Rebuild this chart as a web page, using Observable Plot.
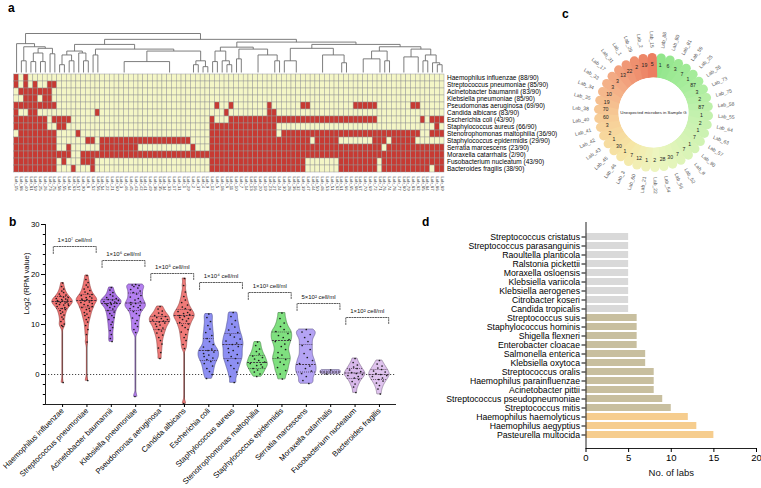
<!DOCTYPE html>
<html><head><meta charset="utf-8">
<script src="https://cdn.jsdelivr.net/npm/d3@7"></script>
<script src="https://cdn.jsdelivr.net/npm/@observablehq/plot@0.6"></script>
<style>
body{margin:0;background:#fff;}
#root{position:relative;width:761px;height:488px;overflow:hidden;font-family:"Liberation Sans",Arial,Helvetica,sans-serif;}
.pl{position:absolute;}
.lbl{position:absolute;font-weight:bold;font-size:12px;line-height:1;color:#000;}
</style></head><body><div id="root"></div>
<script>
// ---------------- DATA ----------------
// Panel a: heatmap
const heatSpecies = ["Haemophilus influenzae","Streptococcus pneumoniae","Acinetobacter baumannii","Klebsiella pneumoniae","Pseudomonas aeruginosa","Candida albicans","Escherichia coli","Staphylococcus aureus","Stenotrophomonas maltophilia","Staphylococcus epidermidis","Serratia marcescens","Moraxella catarrhalis","Fusobacterium nucleatum","Bacteroides fragilis"];
const heatDetected = [88,85,83,85,69,83,43,66,36,29,23,2,43,38];
const heatTotal = 90;
const labOrder = [15,88,40,81,59,25,26,73,75,58,55,64,63,57,90,8,52,56,54,22,21,60,3,46,45,43,42,41,49,38,35,34,33,17,31,1,29,2,37,4,9,12,5,18,6,11,10,7,14,13,16,20,19,23,27,24,30,28,36,32,39,47,44,50,48,53,51,62,61,66,65,68,67,70,69,72,71,76,74,78,77,80,79,83,82,85,84,87,86,89];
// missed (not detected) column runs per row, by column position
const missedRuns = [
 [[0,0],[2,2]],
 [[0,0],[2,2],[4,4],[7,8]],
 [[1,7]],
 [[2,4],[6,7]],
 [[0,8],[42,42],[45,45],[53,53],[60,61],[71,75],[83,84]],
 [[0,0],[3,4],[17,17],[44,44],[53,54]],
 [[0,6],[8,11],[41,41],[45,75],[85,85],[87,89]],
 [[0,6],[9,10],[41,54],[88,88]],
 [[1,8],[13,13],[41,54],[56,84],[87,89]],
 [[0,8],[15,16],[18,36],[41,61],[63,67],[75,77],[79,83]],
 [[0,8],[11,11],[18,25],[37,37],[41,76],[78,89]],
 [[0,11],[14,89]],
 [[0,8],[10,10],[14,16],[41,60],[68,75],[77,89]],
 [[0,8],[12,12],[16,16],[41,60],[68,75],[77,86],[88,89]]
];
// dendrogram: [height, child, child]; leaf = column position or "a-b" group of identical columns
const dendro = [1.0,
  [0.74, 0, [0.66, [0.3, 1, 2], [0.62, [0.5, [0.28, 3, 4], [0.28, 5, 6]], [0.48, 7, 8]]]],
  [0.85,
    [0.72, [0.55, [0.45, [0.2, 9, 10], [0.3, 11, 12]], [0.5, 13, [0.3, 14, 15]]],
           [0.6, [0.45, 16, 17], [0.55, [0.28, "18-27", "28-36"], [0.3, [0.2, 37, 38], [0.15, 39, 40]]]]],
    [0.78, [0.65, [0.55, [0.28, 41, 42], [0.3, 43, [0.2, 44, 45]]], [0.6, [0.35, 46, 47], [0.45, "48-53", [0.3, 54, 55]]]],
           [0.72, [0.62, [0.3, 56, "57-60"], [0.45, "61-67", [0.25, 68, 69]]],
                  [0.66, [0.55, [0.35, "70-75", 76], [0.3, 77, 78]], [0.6, [0.4, "79-83", 84], [0.45, [0.3, 85, 86], [0.25, 87, [0.2, 88, 89]]]]]]]
  ]
];

// Panel b: violins
const bSpecies = ["Haemophilus influenzae","Streptococcus pneumoniae","Acinetobacter baumannii","Klebsiella pneumoniae","Pseudomonas aeruginosa","Candida albicans","Escherichia coli","Staphylococcus aureus","Stenotrophomonas maltophilia","Staphylococcus epidermidis","Serratia marcescens","Moraxella catarrhalis","Fusobacterium nucleatum","Bacteroides fragilis"];
const bPoints = [
 [18.3,17.6,17.1,16.7,16.4,16.1,15.9,15.7,15.5,15.4,15.2,15.1,15.0,14.9,14.8,14.7,14.6,14.5,14.4,14.3,14.2,14.1,14.0,13.9,13.8,13.6,13.4,13.2,13.0,12.8,12.5,12.2,11.9,11.5,11.1,10.6,10.1,9.8,9.6,-1.6],
 [19.8,19.0,18.4,17.9,17.5,17.1,16.8,16.5,16.2,16.0,15.8,15.6,15.4,15.3,15.1,15.0,14.9,14.8,14.7,14.5,14.4,14.2,14.0,13.8,13.6,13.4,13.2,13.0,12.7,12.4,12.1,11.8,11.4,11.0,10.5,9.8,9.0,8.0,6.5,-1.2],
 [17.4,16.9,16.4,16.0,15.7,15.4,15.2,15.0,14.9,14.8,14.6,14.5,14.4,14.3,14.1,14.0,13.8,13.6,13.4,13.1,12.8,12.5,12.2,11.8,11.4,11.0,10.5,10.0,9.4,8.8,8.0,7.2,6.6],
 [18.0,17.9,17.8,17.6,17.3,17.0,16.7,16.4,16.1,15.8,15.5,15.2,14.9,14.6,14.4,14.2,14.0,13.8,13.6,13.4,13.2,13.0,12.6,12.2,11.8,11.3,10.8,10.2,9.6,9.0,8.4,-4.4],
 [13.6,13.1,12.7,12.3,12.0,11.8,11.6,11.4,11.2,11.0,10.9,10.7,10.5,10.3,10.1,9.9,9.6,9.3,9.0,8.7,8.3,7.9,7.4,6.8,6.1,5.3,4.4,3.2],
 [19.2,17.8,16.5,15.6,14.9,14.4,13.9,13.5,13.2,12.9,12.6,12.4,12.2,12.0,11.8,11.6,11.4,11.2,11.0,10.7,10.4,10.1,9.8,9.4,9.0,8.5,8.0,7.4,6.8,6.0,5.2,-5.8],
 [12.1,11.4,10.6,9.8,9.1,8.4,7.8,7.2,6.6,6.0,5.5,5.1,4.8,4.5,4.2,3.9,3.6,3.3,3.0,2.6,2.2,1.7,1.2,0.6,0.0,-0.8],
 [12.4,11.6,10.8,10.1,9.5,8.9,8.4,7.9,7.5,7.1,6.7,6.3,6.0,5.6,5.2,4.8,4.4,4.0,3.6,3.2,2.8,2.3,1.8,1.2,0.5,-0.4,-1.6],
 [6.5,5.8,5.1,4.6,4.1,3.7,3.4,3.1,2.8,2.5,2.2,2.0,1.8,1.5,1.2,0.9,0.5,0.1,-0.4],
 [12.3,11.2,10.3,9.6,9.0,8.6,8.2,7.8,7.4,7.0,6.6,6.1,5.6,5.0,4.4,3.9,3.4,3.0,2.5,2.0,1.4,0.8,0.1,-0.9],
 [9.0,8.5,8.0,7.4,6.6,5.8,5.0,4.2,3.4,2.8,2.2,1.7,1.2,0.7,0.2,-0.4,-1.2,-1.8],
 [0.9,0.1],
 [3.2,2.4,1.9,1.5,1.2,0.9,0.6,0.4,0.2,0.0,-0.2,-0.4,-0.7,-1.0,-1.4,-1.9,-2.5,-3.6],
 [2.8,2.1,1.7,1.3,1.0,0.7,0.5,0.2,0.0,-0.2,-0.4,-0.7,-1.0,-1.3,-1.7,-2.2,-2.9,-3.9]
];
const bQuartiles = [[13.2,14.6,15.6],[13.5,14.8,16.0],[12.8,14.2,15.0],[12.8,14.3,16.3],[9.0,10.6,11.6],[10.2,11.8,13.0],[2.8,4.8,7.2],[3.2,6.0,8.2],[1.2,2.4,3.8],[3.2,6.8,8.5],[0.5,2.0,6.0],[0.3,0.5,0.7],[-0.8,0.3,1.2],[-1.0,0.0,1.0]];
const bracketSpan = [[0,1],[2,3],[4,5],[6,7],[8,9],[10,11],[12,13]];
const bracketLevel = [25.6,22.8,20.2,18.4,16.4,14.2,11.4];
const bracketText = ["1×10⁷ cell/ml","1×10⁶ cell/ml","1×10⁵ cell/ml","1×10⁴ cell/ml","1×10³ cell/ml","5×10² cell/ml","1×10² cell/ml"];
const bYLabel = "Log2 (RPM value)";

// Panel c: circular plot
const cLabs = ["Lab_88","Lab_80","Lab_81","Lab_59","Lab_25","Lab_26","Lab_73","Lab_75","Lab_58","Lab_55","Lab_64","Lab_63","Lab_57","Lab_90","Lab_8","Lab_52","Lab_56","Lab_54","Lab_22","Lab_21","Lab_60","Lab_3","Lab_46","Lab_45","Lab_43","Lab_42","Lab_41","Lab_40","Lab_38","Lab_35","Lab_34","Lab_33","Lab_17","Lab_31","Lab_1","Lab_29","Lab_2","Lab_15"];
const cValues = [1,6,3,7,1,87,3,2,87,1,2,1,7,1,7,7,30,28,2,1,12,7,1,30,1,2,3,60,70,19,10,3,3,13,22,2,19,5];
const cTitle = "Unexpected microbes in Sample G";

// Panel d: bars
const dSpecies = ["Streptococcus cristatus","Streptococcus parasanguinis","Raoultella planticola","Ralstonia pickettii","Moraxella osloensis","Klebsiella variicola","Klebsiella aerogenes","Citrobacter koseri","Candida tropicalis","Streptococcus suis","Staphylococcus hominis","Shigella flexneri","Enterobacter cloacae","Salmonella enterica","Klebsiella oxytoca","Streptococcus oralis","Haemophilus parainfluenzae","Acinetobacter pittii","Streptococcus pseudopneumoniae","Streptococcus mitis","Haemophilus haemolyticus","Haemophilus aegyptius","Pasteurella multocida"];
const dLabs = [5,5,5,5,5,5,5,5,5,6,6,6,6,7,7,8,8,8,9,10,12,13,15];
const dTier = ["low","low","low","low","low","low","low","low","low","mid","mid","mid","mid","mid","mid","mid","mid","mid","mid","mid","high","high","high"];
const dXLabel = "No. of labs";

// ---------------- STYLE ----------------
const FONT = "Liberation Sans, Arial, Helvetica, sans-serif";
const RED = "#c73a33", YELLOW = "#f4f6c6";
const bFill = ["#ef7170","#ef7170","#a870e4","#b47ff0","#f07a78","#f07a78","#8d8ff3","#8d8ff3","#7fe07f","#7fe07f","#b4a3f4","#c6b9f5","#d8b8ea","#dfc3ee"];
const tierColor = {low: "#d9d9d9", mid: "#c8bf9f", high: "#f6cd8e"};
const root = document.getElementById("root");
function place(el, left, top) { el.classList.add("pl"); el.style.left = left + "px"; el.style.top = top + "px"; root.appendChild(el); }
function label(t, left, top) { const d = document.createElement("div"); d.className = "lbl"; d.textContent = t; d.style.left = left + "px"; d.style.top = top + "px"; root.appendChild(d); }
const baseStyle = {background: "transparent", fontFamily: FONT, overflow: "visible"};

// ---------------- PANEL A ----------------
const heatLabels = heatSpecies.map((s, i) => `${s} (${heatDetected[i]}/${heatTotal})`);
const labNames = labOrder.map(n => "Lab_" + n);
const cells = [];
heatLabels.forEach((row, r) => {
  const miss = new Set();
  missedRuns[r].forEach(([a, b]) => { for (let c = a; c <= b; c++) miss.add(c); });
  labNames.forEach((lab, c) => cells.push({row, lab, missed: miss.has(c) ? 1 : 0}));
});
const segs = [];
function layoutTree(node) {
  if (!Array.isArray(node)) {
    if (typeof node === "number") return {x: node + 0.5, h: 0};
    const [a, b] = node.split("-").map(Number);
    return {x: (a + b + 1) / 2, h: 0};
  }
  const [h, ...kids] = node;
  const ks = kids.map(layoutTree);
  ks.forEach(k => segs.push({x1: k.x, y1: k.h, x2: k.x, y2: h}));
  segs.push({x1: ks[0].x, y1: h, x2: ks[ks.length - 1].x, y2: h});
  return {x: (ks[0].x + ks[ks.length - 1].x) / 2, h};
}
layoutTree(dendro);

const dend = Plot.plot({
  width: 570, height: 74, marginTop: 33, marginBottom: 2, marginLeft: 13.7, marginRight: 126,
  style: baseStyle,
  x: {domain: [0, labNames.length], axis: null},
  y: {domain: [0, 1], axis: null},
  marks: [Plot.link(segs, {x1: "x1", y1: "y1", x2: "x2", y2: "y2", stroke: "#6e6e6e", strokeWidth: 0.9})]
});
place(dend, 0, 0);

const heat = Plot.plot({
  width: 570, height: 145, marginTop: 11.7, marginBottom: 31, marginLeft: 13.7, marginRight: 126,
  style: baseStyle,
  x: {domain: labNames, padding: 0},
  y: {domain: heatLabels, padding: 0},
  color: {type: "ordinal", domain: [0, 1], range: [YELLOW, RED]},
  marks: [
    Plot.cell(cells, {x: "lab", y: "row", fill: "missed", stroke: "#959595", strokeWidth: 0.45}),
    Plot.axisX({tickRotate: 90, tickSize: 0, tickPadding: 2, fontSize: 4.2, label: null, fill: "#333"}),
    Plot.axisY({anchor: "right", tickSize: 0, tickPadding: 2.5, fontSize: 6.5, label: null})
  ]
});
place(heat, 0, 60);

// ---------------- PANEL C ----------------
const nC = cLabs.length;
const petals = cLabs.map((lab, i) => {
  const a = (i + 0.85) * 2 * Math.PI / nC;
  const deg = a * 180 / Math.PI;
  return {i, lab, v: cValues[i], s: Math.sin(a), c: Math.cos(a),
          rot: deg < 180 ? deg - 90 : deg + 90};
});
const circ = Plot.plot({
  width: 190, height: 195, style: baseStyle,
  x: {domain: [-93, 97], range: [0, 190], axis: null},
  y: {domain: [-98, 97], range: [195, 0], axis: null},
  color: {type: "linear", domain: [0, 5, 9, 14, 18, 22, 27, 32, 37],
          range: ["#92e68c", "#aaed9e", "#c3f1ae", "#daf4b7", "#edf5bf", "#f6e6a6", "#f7cd97", "#f3aa84", "#ec7e61"]},
  marks: [
    Plot.link(petals, {x1: d => 35 * d.s, y1: d => 35 * d.c, x2: d => 55 * d.s, y2: d => 55 * d.c, stroke: "i", strokeWidth: 9.2}),
    Plot.dot(petals, {x: d => 55 * d.s, y: d => 55 * d.c, r: 4.6, fill: "i"}),
    Plot.dot([cTitle], {x: () => 0, y: () => 0, r: 35, fill: "white"}),
    Plot.text(petals, {x: d => 48 * d.s, y: d => 48 * d.c, text: "v", fontSize: 5.2, fill: "#222"}),
    Plot.text(petals, {x: d => 73 * d.s, y: d => 73 * d.c, text: "lab", rotate: "rot", fontSize: 5, fill: "#555"}),
    Plot.text([cTitle], {x: () => 0, y: () => 0, text: d => d, fontSize: 4.3, fill: "#222"})
  ]
});
place(circ, 560, 15);

// ---------------- PANEL B ----------------
const BW = 0.55;
const JIT = [0, -0.55, 0.5, -0.25, 0.3, -0.75, 0.7, -0.4, 0.15, 0.85, -0.85, 0.4, -0.1, 0.6, -0.6];
const violinRows = [], dotRows = [], quartRows = [], whisk = [];
bSpecies.forEach((sp, i) => {
  const vals = bPoints[i];
  const lo = d3.min(vals), hi = d3.max(vals);
  const dens = y => d3.sum(vals, v => Math.exp(-0.5 * ((y - v) / BW) ** 2));
  const grid = d3.range(lo, hi, 0.1).concat([hi]);
  const peak = d3.max(grid, dens);
  const hw = y => 0.42 * dens(y) / peak;
  grid.forEach(y => violinRows.push({sp, i, y, hw: hw(y)}));
  vals.forEach((v, k) => dotRows.push({sp, i, v, off: JIT[k % JIT.length] * hw(v) * 0.85}));
  bQuartiles[i].forEach((q, k) => quartRows.push({sp, i, q, k, hw: hw(q)}));
  whisk.push({sp, i, lo, hi});
});
const brLines = [], brTexts = [];
bracketSpan.forEach(([a, b], j) => {
  const L = bracketLevel[j];
  brLines.push({j, x: a - 0.38, y: L - 1.4}, {j, x: a - 0.38, y: L}, {j, x: b + 0.38, y: L}, {j, x: b + 0.38, y: L - 1.4});
  brTexts.push({x: (a + b) / 2, y: L + 1.35, t: bracketText[j]});
});
const violin = Plot.plot({
  width: 420, height: 273, marginLeft: 45, marginRight: 24, marginTop: 9, marginBottom: 84,
  style: baseStyle,
  x: {domain: [-0.7, bSpecies.length - 0.3]},
  y: {domain: [-6, 30]},
  marks: [
    Plot.ruleY([0], {stroke: "#333", strokeDasharray: "1.2,1.8", strokeWidth: 0.9}),
    Plot.ruleX(whisk, {x: "i", y1: "lo", y2: "hi", stroke: "#1a1a1a", strokeWidth: 0.8}),
    Plot.areaX(violinRows, {y: "y", x1: d => d.i - d.hw, x2: d => d.i + d.hw, z: "sp",
      fill: d => bFill[d.i], stroke: d => d3.color(bFill[d.i]).darker(1.3).formatHex(), strokeWidth: 0.7}),
    Plot.ruleY(quartRows.filter(d => d.k === 1), {y: "q", x1: d => d.i - d.hw, x2: d => d.i + d.hw, stroke: "#3a2a3a", strokeWidth: 0.9, strokeDasharray: "2,1"}),
    Plot.ruleY(quartRows.filter(d => d.k !== 1), {y: "q", x1: d => d.i - d.hw, x2: d => d.i + d.hw, stroke: "#3a2a3a", strokeWidth: 0.7, strokeDasharray: "1,1"}),
    Plot.dot(dotRows, {x: d => d.i + d.off, y: "v", r: 0.85, fill: "#1b1b1b"}),
    Plot.line(brLines, {x: "x", y: "y", z: "j", stroke: "#333", strokeWidth: 0.8, strokeDasharray: "1.3,1.3"}),
    Plot.text(brTexts, {x: "x", y: "y", text: "t", fontSize: 6, fill: "#111"}),
    Plot.ruleY([-6], {stroke: "#222", strokeWidth: 1}),
    Plot.ruleX([-0.7], {stroke: "#222", strokeWidth: 1}),
    Plot.axisX({ticks: bSpecies.map((s, i) => i), tickFormat: i => bSpecies[i], tickRotate: -45, tickSize: 3, tickPadding: 2, fontSize: 7.7, label: null}),
    Plot.axisY({ticks: [0, 10, 20, 30], tickSize: 4, tickPadding: 2, fontSize: 7.7, label: null}),
    Plot.axisY({ticks: d3.range(-6, 31, 2), tickSize: 2.2, tickFormat: () => "", label: null}),
    Plot.text([bYLabel], {frameAnchor: "left", text: d => d, rotate: -90, dx: -19, fontSize: 7.7, fill: "#111"})
  ]
});
place(violin, 0, 215);

// ---------------- PANEL D ----------------
const dRows = dSpecies.map((sp, i) => ({sp, n: dLabs[i], tier: dTier[i]}));
const bars = Plot.plot({
  width: 341, height: 273, marginLeft: 165.5, marginRight: 5, marginTop: 7, marginBottom: 40,
  style: baseStyle,
  x: {domain: [0, 20]},
  y: {domain: dSpecies, padding: 0.25},
  marks: [
    Plot.barX(dRows, {x: "n", y: "sp", fill: d => tierColor[d.tier]}),
    Plot.ruleX([0], {stroke: "#222", strokeWidth: 1}),
    Plot.frame({anchor: "bottom", stroke: "#222"}),
    Plot.axisY({tickSize: 4, tickPadding: 2, fontSize: 8.7, label: null}),
    Plot.axisX({ticks: [0, 5, 10, 15, 20], tickSize: 4, tickPadding: 2, fontSize: 9.5, label: null}),
    Plot.text([dXLabel], {frameAnchor: "bottom", text: d => d, dy: 27, fontSize: 9.5, fill: "#111"})
  ]
});
place(bars, 420, 215);

label("a", 8, 2);
label("b", 9, 216);
label("c", 562, 8);
label("d", 422, 216);
</script></body></html>
